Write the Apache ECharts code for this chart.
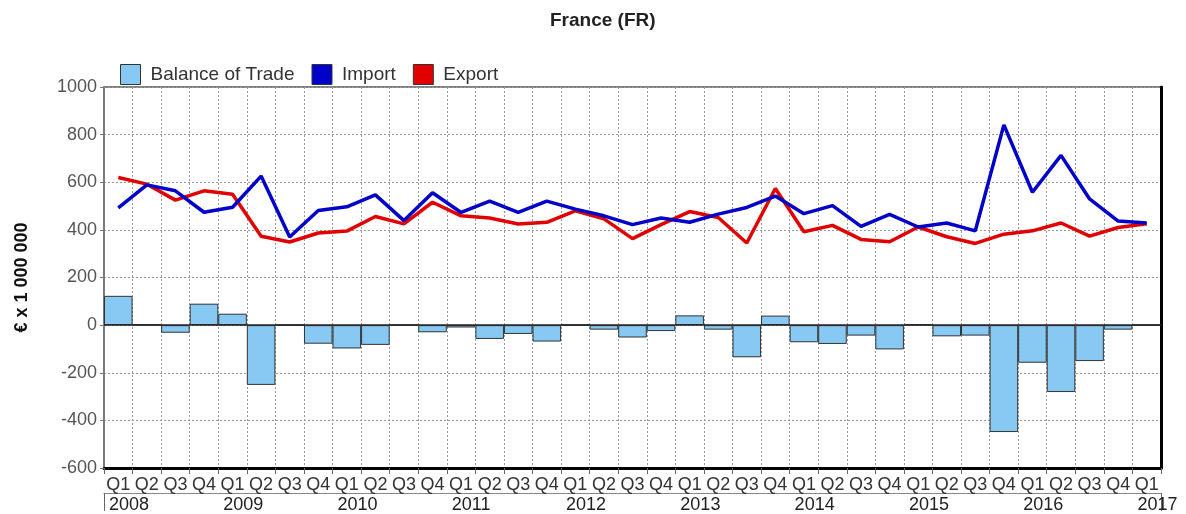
<!DOCTYPE html>
<html>
<head>
<meta charset="utf-8">
<script src="https://cdn.jsdelivr.net/npm/echarts@6/dist/echarts.min.js"></script>
<style>
html,body{margin:0;padding:0;background:#fff;}
#chart{width:1186px;height:514px;}
</style>
</head>
<body>
<div id="chart"></div>
<script>
const years = ['2008','2009','2010','2011','2012','2013','2014','2015','2016','2017'];
const quarters = ['Q1','Q2','Q3','Q4'];
const yTicks = {min: -600, max: 1000, interval: 200};

const balance = [123, 2, -32, 90, 48, -251, 0, -78, -98, -83, 0, -30, -10, -58, -37, -69, 0, -19, -52, -25, 41, -19, -135, 40, -72, -79, -44, -102, 3, -47, -44, -449, -158, -281, -151, -19, 0];
const imports = [492, 589, 564, 474, 495, 626, 370, 481, 497, 547, 439, 556, 473, 521, 473, 521, 487, 459, 422, 450, 432, 466, 494, 542, 468, 502, 415, 465, 412, 429, 396, 841, 558, 713, 530, 437, 429];
const exports = [620, 592, 525, 564, 550, 373, 349, 387, 395, 456, 425, 516, 459, 450, 425, 432, 480, 446, 363, 422, 477, 452, 345, 574, 392, 419, 360, 350, 412, 371, 343, 382, 396, 429, 374, 410, 426];

// categories: every quarter from 2008 Q1 to 2017 Q1
const categories = [];
years.forEach(function (y) {
  quarters.forEach(function (q) {
    if (categories.length < balance.length) categories.push(y + '-' + q);
  });
});
// year axis: category boundaries (one more than categories)
const yearAxisData = categories.concat(['end']);

const FONT = 'Liberation Sans, Arial, sans-serif';
const chart = echarts.init(document.getElementById('chart'), null, {renderer: 'canvas'});

chart.setOption({
  animation: false,
  backgroundColor: '#ffffff',
  textStyle: {fontFamily: FONT},
  title: {
    text: 'France (FR)',
    left: 545, top: 6,
    textStyle: {fontFamily: FONT, fontSize: 19, fontWeight: 'bold', color: '#222'}
  },
  legend: {
    left: 115, top: 59,
    icon: 'rect',
    itemWidth: 20, itemHeight: 20, itemGap: 17,
    itemStyle: {borderColor: '#333', borderWidth: 1},
    textStyle: {fontFamily: FONT, fontSize: 19, color: '#333', padding: [0, 0, 0, 5]},
    data: ['Balance of Trade', 'Import', 'Export']
  },
  grid: {
    left: 104, right: 25, top: 87, bottom: 46,
    show: true, borderColor: '#555', borderWidth: 1.5, backgroundColor: 'transparent'
  },
  xAxis: [
    {
      type: 'category',
      data: categories,
      boundaryGap: true,
      position: 'bottom',
      axisLine: {show: true, onZero: false, lineStyle: {color: '#000', width: 3}},
      axisTick: {show: true, interval: 0, length: 6, lineStyle: {color: '#666', width: 1}},
      axisLabel: {
        interval: 0, margin: 8, fontSize: 18, color: '#333', fontFamily: FONT,
        formatter: function (v) { return v.split('-')[1]; }
      },
      splitLine: {show: true, interval: 0, lineStyle: {color: '#999', type: [2, 2], width: 1}}
    },
    {
      type: 'category',
      data: yearAxisData,
      boundaryGap: false,
      position: 'bottom',
      offset: 25,
      axisLine: {show: true, onZero: false, lineStyle: {color: '#888', width: 1}},
      axisTick: {
        show: true, length: 18, lineStyle: {color: '#666', width: 1},
        interval: function (i) { return i === 0 || i === yearAxisData.length - 1; }
      },
      axisLabel: {
        margin: 3, fontSize: 18, color: '#222', fontFamily: FONT, align: 'left',
        interval: function (i, v) { return v.endsWith('-Q1'); },
        formatter: function (v) { return v.endsWith('-Q1') ? ' ' + v.split('-')[0] : ''; }
      },
      splitLine: {show: false}
    }
  ],
  yAxis: [
    {
      type: 'value',
      min: yTicks.min, max: yTicks.max, interval: yTicks.interval,
      name: '€ x 1 000 000',
      nameLocation: 'middle', nameGap: 73, nameRotate: 90,
      nameTextStyle: {fontFamily: FONT, fontSize: 18, fontWeight: 'bold', color: '#111'},
      axisLine: {show: true, lineStyle: {color: '#777', width: 1.5}},
      axisTick: {show: true, length: 4, lineStyle: {color: '#777'}},
      axisLabel: {fontSize: 18, color: '#555', margin: 7, fontFamily: FONT,
        formatter: function (v) { return String(v); }},
      splitLine: {show: true, lineStyle: {color: '#999', type: [2, 2], width: 1}}
    },
    {
      type: 'value', position: 'right',
      min: yTicks.min, max: yTicks.max, interval: yTicks.interval,
      axisLine: {show: true, lineStyle: {color: '#000', width: 3}},
      axisTick: {show: false}, axisLabel: {show: false}, splitLine: {show: false}
    }
  ],
  series: [
    {
      name: 'Balance of Trade',
      type: 'bar',
      data: balance,
      barCategoryGap: '0%',
      itemStyle: {color: '#87c9f2', borderColor: '#333', borderWidth: 1},
      z: 2,
      markLine: {
        silent: true, symbol: 'none', label: {show: false},
        lineStyle: {color: '#222', type: 'solid', width: 1.5},
        data: [{yAxis: 0}]
      }
    },
    {
      name: 'Import',
      type: 'line',
      data: imports,
      symbol: 'none',
      lineStyle: {color: '#0000c8', width: 3.5},
      itemStyle: {color: '#0000c8'},
      z: 4
    },
    {
      name: 'Export',
      type: 'line',
      data: exports,
      symbol: 'none',
      lineStyle: {color: '#e00000', width: 3.5},
      itemStyle: {color: '#e00000'},
      z: 3
    }
  ]
});
</script>
</body>
</html>
